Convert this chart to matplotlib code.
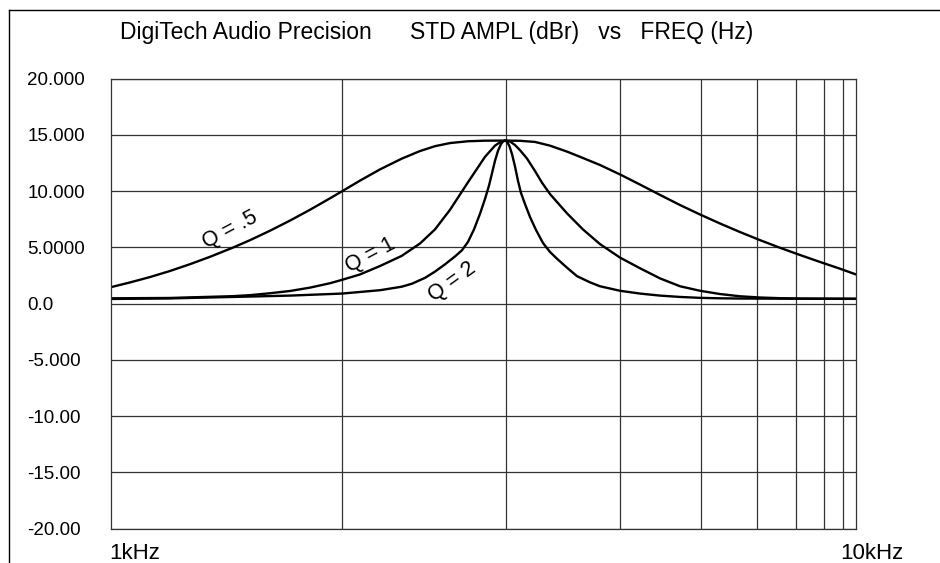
import matplotlib
matplotlib.use("Agg")
import matplotlib.pyplot as plt
import matplotlib.transforms as mtransforms
from matplotlib.lines import Line2D

plt.rcParams['font.family'] = ['Liberation Sans', 'DejaVu Sans']

# ---- data (frequency in Hz, amplitude in dBr) ----
freq_q05 = [1000, 1062, 1130, 1202, 1278, 1360, 1460, 1539, 1637, 1741,
            1852, 1970, 2044, 2161, 2299, 2458, 2601, 2724, 2854, 3017,
            3179, 3382, 3542, 3710, 3886, 4096, 4303, 4535, 4824, 5132, 5459,
            5807, 6176, 6570, 6989, 7434, 7908, 8412, 8948, 9518, 10000]
db_q05 = [1.46, 1.89, 2.37, 2.91, 3.51, 4.17, 4.99, 5.65, 6.49, 7.39,
          8.35, 9.37, 9.99, 10.94, 11.94, 12.89, 13.57, 14.0, 14.28, 14.44,
          14.49, 14.5, 14.48, 14.38, 14.05, 13.52, 12.95, 12.33, 11.49, 10.59, 9.67,
          8.77, 7.93, 7.13, 6.37, 5.65, 4.97, 4.33, 3.71, 3.11, 2.6]

freq_q1 = [1000, 1202, 1460, 1539, 1637, 1741, 1852, 1970, 2044, 2161,
           2299, 2458, 2601, 2724, 2854, 3017, 3179, 3279, 3330, 3382,
           3435, 3488, 3542, 3620, 3710, 3792, 3886, 4096, 4303, 4535,
           4824, 5132, 5459, 5807, 6176, 6570, 6989, 7434, 7908, 8412,
           8948, 10000]
db_q1 = [0.48, 0.51, 0.67, 0.76, 0.93, 1.13, 1.43, 1.82, 2.12, 2.6,
         3.35, 4.25, 5.35, 6.6, 8.35, 10.8, 13.05, 14.05, 14.35, 14.5,
         14.42, 14.1, 13.65, 12.9, 11.8, 10.75, 9.75, 8.03, 6.6, 5.3,
         4.1, 3.15, 2.25, 1.55, 1.15, 0.86, 0.66, 0.55, 0.49, 0.46,
         0.45, 0.44]

freq_q2 = [1000, 1202, 1460, 1741, 2044, 2299, 2458, 2538, 2642, 2724,
           2810, 2898, 2961, 3017, 3073, 3131, 3179, 3219, 3249, 3279,
           3310, 3341, 3361, 3382, 3403, 3429, 3456, 3488, 3521, 3553,
           3598, 3654, 3722, 3803, 3886, 3971, 4096, 4224, 4397, 4535,
           4824, 5132, 5459, 5807, 6176, 6570, 6989, 8412, 10000]
db_q2 = [0.42, 0.47, 0.6, 0.72, 0.9, 1.2, 1.51, 1.78, 2.3, 2.85,
         3.5, 4.2, 4.75, 5.5, 6.6, 8.0, 9.3, 10.5, 11.6, 12.7,
         13.6, 14.2, 14.42, 14.5, 14.4, 14.0, 13.3, 12.2, 10.9, 9.85,
         8.85, 7.7, 6.55, 5.4, 4.6, 4.0, 3.2, 2.45, 1.9, 1.55,
         1.15, 0.9, 0.72, 0.6, 0.52, 0.48, 0.46, 0.44, 0.43]

grid_freqs = [2045, 3389, 4825, 6190, 7365, 8316, 9050, 9616]
y_ticks = [20, 15, 10, 5, 0, -5, -10, -15, -20]
y_tick_labels = ["20.000", "15.000", "10.000", "5.0000", "0.0", "-5.000",
                 "-10.00", "-15.00", "-20.00"]
x_ticks = [1000, 10000]
x_tick_labels = ["1kHz", "10kHz"]
curve_labels = ["Q = .5", "Q = 1", "Q = 2"]

W, H = 940, 563
fig = plt.figure(figsize=(W / 100, H / 100), dpi=100)
ax = fig.add_axes([110.5 / W, 1 - 528.7 / H, (856 - 110.5) / W, (528.7 - 78.7) / H])

ax.set_xscale('log')
ax.set_xlim(1000, 10000)
ax.set_ylim(-20, 20)

gcol = '#333333'
ax.set_yticks(y_ticks)
ax.set_yticklabels(y_tick_labels)
ax.set_xticks(x_ticks)
ax.set_xticklabels(x_tick_labels)
ax.xaxis.set_minor_locator(matplotlib.ticker.FixedLocator(grid_freqs))
ax.xaxis.set_minor_formatter(matplotlib.ticker.NullFormatter())
ax.tick_params(axis='both', which='both', length=0)
ax.tick_params(axis='y', pad=60, labelsize=13.5)
ax.tick_params(axis='x', pad=10, labelsize=16)
for lab in ax.get_yticklabels():
    lab.set_horizontalalignment('left')
xoffs = [24, 16]
for lab, dx in zip(ax.get_xticklabels(), xoffs):
    lab.set_transform(lab.get_transform() +
                      mtransforms.ScaledTranslation(dx / 100, 0, fig.dpi_scale_trans))

ax.grid(True, which='major', axis='y', color=gcol, lw=0.9)
ax.grid(True, which='minor', axis='x', color=gcol, lw=0.9)
for s in ax.spines.values():
    s.set_color(gcol)
    s.set_linewidth(0.9)

for fr, db in [(freq_q05, db_q05), (freq_q1, db_q1), (freq_q2, db_q2)]:
    ax.plot(fr, db, color='black', lw=1.7, solid_joinstyle='round',
            solid_capstyle='round')

ax.text(1446, 6.55, curve_labels[0], rotation=28, ha='center', va='center', fontsize=15.5)
ax.text(2229, 4.33, curve_labels[1], rotation=28, ha='center', va='center', fontsize=15.5)
ax.text(2872, 1.93, curve_labels[2], rotation=36, ha='center', va='center', fontsize=15.5)

fig.text(120 / W, 1 - 33 / H,
         "DigiTech Audio Precision      STD AMPL (dBr)   vs   FREQ (Hz)",
         ha='left', va='center', fontsize=16.5)

# outer frame (left and top edges visible)
fx, fy = 9 / W, 1 - 10 / H
fig.add_artist(Line2D([fx, fx], [0, fy], transform=fig.transFigure, color='black', lw=1))
fig.add_artist(Line2D([fx, 1], [fy, fy], transform=fig.transFigure, color='black', lw=1))

fig.savefig('out.png', dpi=100)
